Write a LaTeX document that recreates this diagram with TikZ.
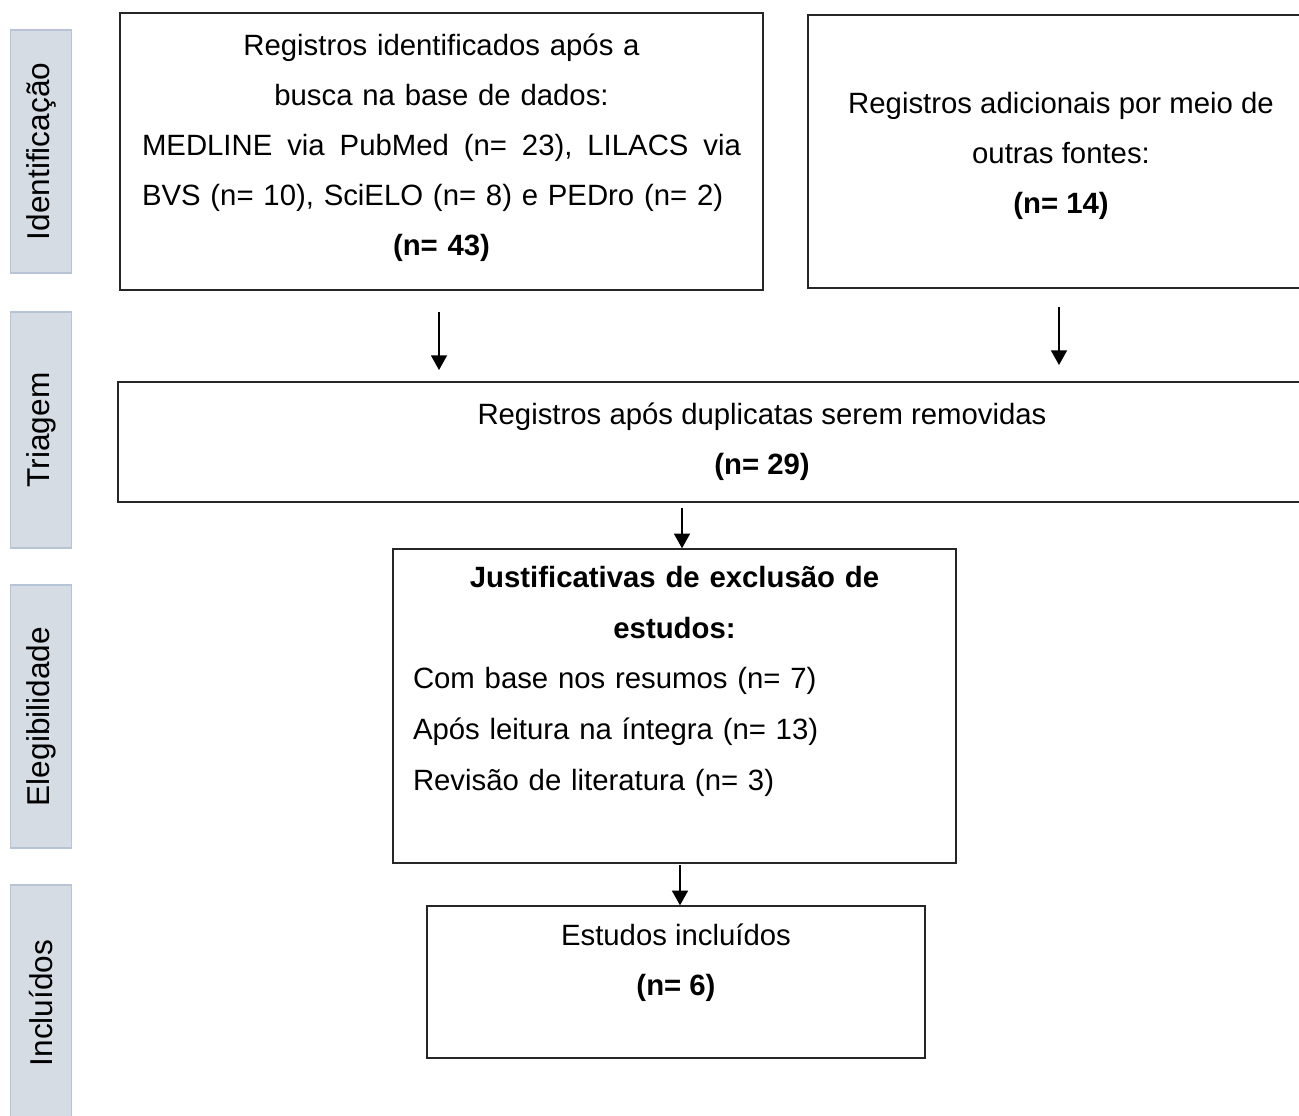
\documentclass[tikz,border=0pt]{standalone}
\usepackage{fontspec}
\setmainfont{Liberation Sans}
\usetikzlibrary{arrows.meta}
\definecolor{lblfill}{RGB}{214,220,228}
\definecolor{lbldraw}{RGB}{183,196,214}
\frenchspacing

\begin{document}
\begin{tikzpicture}[x=0.75pt, y=-0.75pt,
  font=\fontsize{22}{37.5}\selectfont,
  lbl/.style 2 args={draw=lbldraw, fill=lblfill, line width=0.8pt, rotate=90,
    minimum width=#1*0.75pt, minimum height=#2*0.75pt, inner sep=0pt,
    font=\fontsize{23.7}{28}\selectfont},
  box/.style 2 args={draw=black!85, line width=1.1pt, align=center, inner sep=0pt,
    minimum width=#1*0.75pt, minimum height=#2*0.75pt},
  arr/.style={line width=1.2pt, -{Triangle[width=12pt,length=11pt]}}]
  \useasboundingbox (0,0) rectangle (1299,1115);
  \clip (0,0) rectangle (1299,1115);

  % fases
  \node[lbl={243}{61}] (ident) at (41,151.5) {Identificação};
  \node[lbl={236}{61}] (triag) at (41,430) {Triagem};
  \node[lbl={263}{61}] (eleg) at (41,716.5) {Elegibilidade};
  \node[lbl={236}{61}] (inclu) at (41,1003) {Incluídos};

  % caixas
  \node[box={643}{277}, text width=449.25pt] (busca) at (441.5,151.5)
    {Registros identificados após a\\ busca na base de dados:\\
     \makebox[449.25pt]{MEDLINE\hfill via\hfill PubMed\hfill (n=\hfill 23),\hfill LILACS\hfill via}\\
     \makebox[449.25pt][l]{\makebox[422pt][s]{BVS (n= 10), SciELO (n= 8) e PEDro (n= 2)}}\\
     \textbf{(n= 43)}\rule[-10.6pt]{0pt}{10.6pt}};
  \node[box={506}{273}] (outras) at (1061,151.5)
    {\rule{0pt}{22pt}Registros adicionais por meio de\\ outras fontes:\\ \textbf{(n= 14)}};
  \node[box={1288}{120}] (dup) at (762,442)
    {Registros após duplicatas serem removidas\\ \textbf{(n= 29)}};
  \node[box={563}{314}, text width=392.25pt, font=\fontsize{22}{38}\selectfont] (excl) at (674.5,706)
    {\textbf{Justificativas de exclusão de}\\ \textbf{estudos:}\\
     \makebox[392.25pt][l]{Com base nos resumos (n= 7)}\\
     \makebox[392.25pt][l]{Após leitura na íntegra (n= 13)}\\
     \makebox[392.25pt][l]{Revisão de literatura (n= 3)}\\[-7.5pt] \strut};
  \node[box={498}{152}] (incl) at (676,982)
    {Estudos incluídos\\ \textbf{(n= 6)}\\[-15pt] \strut};

  % setas
  \coordinate (s1) at (439,312);
  \coordinate (t1) at (439,370);
  \coordinate (s2) at (1059,307);
  \coordinate (t2) at (1059,365);
  \coordinate (s3) at (682,508);
  \coordinate (s4) at (680,865);
  \draw[arr] (s1) -- (t1);
  \draw[arr] (s2) -- (t2);
  \draw[arr] (s3) -- (s3 |- excl.north);
  \draw[arr] (s4) -- (s4 |- incl.north);
\end{tikzpicture}
\end{document}
